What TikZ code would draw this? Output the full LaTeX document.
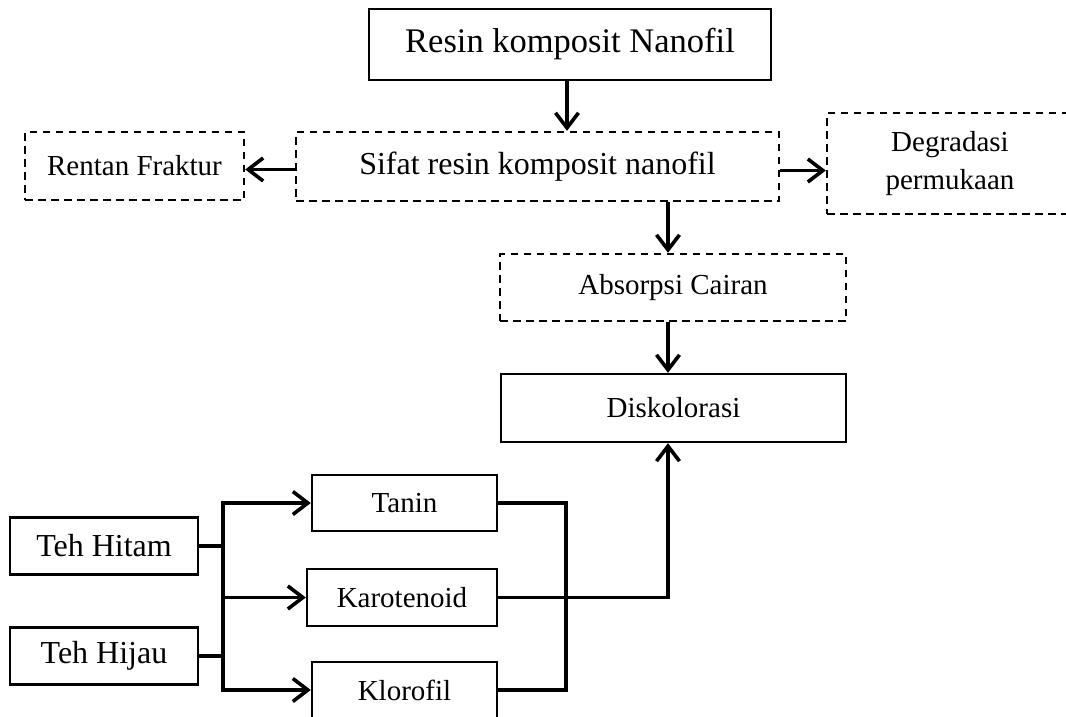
\documentclass[tikz,border=0pt]{standalone}
\usepackage{fontspec}
\setmainfont{Liberation Serif}
\usetikzlibrary{arrows.meta}
\tikzset{
  solidbox/.style={draw=black, line width=2.4pt, inner sep=0pt, align=center, fill=white},
  dashbox/.style={draw=black, line width=2.4pt, dash pattern=on 7.5pt off 5.5pt, inner sep=0pt, align=center},
  conn/.style={line width=3.4pt},
  arr/.style={line width=3.4pt, -{Straight Barb[length=15pt,width=23pt,line width=3.6pt]}},
  big/.style={font=\fontsize{34.5}{40}\selectfont},
  sifatf/.style={font=\fontsize{32}{38}\selectfont},
  mid/.style={font=\fontsize{32}{38}\selectfont},
  small/.style={font=\fontsize{29}{38}\selectfont},
}
\begin{document}
\begin{tikzpicture}[x=1pt,y=-1pt]
\useasboundingbox (0,0) rectangle (1066,717);
\node[solidbox,big,minimum width=402pt,minimum height=71pt] (resin) at (570,44.5) {Resin komposit Nanofil};
\node[dashbox,sifatf,minimum width=483pt,minimum height=69pt] (sifat) at (537.5,166.5) {Sifat resin komposit nanofil};
\node[dashbox,small,minimum width=219pt,minimum height=68pt] (rentan) at (134.5,166) {Rentan Fraktur};
\node[dashbox,small,minimum width=246pt,minimum height=101pt] (degr) at (950,163.5) {Degradasi\\permukaan};
\node[dashbox,small,minimum width=346pt,minimum height=67pt] (absorp) at (673,287.5) {Absorpsi Cairan};
\node[solidbox,small,minimum width=345pt,minimum height=68pt] (disk) at (673.5,408) {Diskolorasi};
\node[solidbox,small,minimum width=185pt,minimum height=56pt] (tanin) at (404.5,503) {Tanin};
\node[solidbox,small,minimum width=190pt,minimum height=57pt] (karo) at (402,597.5) {Karotenoid};
\node[solidbox,small,minimum width=185pt,minimum height=56pt] (klor) at (404.5,690) {Klorofil};
\node[solidbox,mid,minimum width=188pt,minimum height=57pt] (hitam) at (104,546) {Teh Hitam};
\node[solidbox,mid,minimum width=188pt,minimum height=57pt] (hijau) at (104,656) {Teh Hijau};
\coordinate (ax) at (668,0);
\coordinate (mx) at (566,0);
\coordinate (tx) at (223,0);
% top part
\draw[arr] (resin.south -| 567,0) -- (sifat.north -| 567,0);
\draw[arr] ([yshift=-3pt]sifat.west) -- ([yshift=-3pt]sifat.west -| rentan.east);
\draw[arr] ([yshift=-4pt]sifat.east) -- ([yshift=-4pt]sifat.east -| degr.west);
\draw[arr] (sifat.south -| ax) -- (absorp.north -| ax);
\draw[arr] (absorp.south -| ax) -- (disk.north -| ax);
% right collector
\draw[conn] (tanin.east) -- (tanin.east -| mx) -- (klor.east -| mx) -- (klor.east);
\draw[arr] (karo.east) -- (karo.east -| ax) -- (disk.south -| ax);
% left trunk
\draw[conn] (hitam.east) -- (hitam.east -| tx);
\draw[conn] (hijau.east) -- (hijau.east -| tx);
\draw[conn,line cap=rect] (tanin.west -| tx) -- (klor.west -| tx);
\draw[arr] (tanin.west -| tx) -- (tanin.west);
\draw[arr] (karo.west -| tx) -- (karo.west);
\draw[arr] (klor.west -| tx) -- (klor.west);
\end{tikzpicture}
\end{document}
